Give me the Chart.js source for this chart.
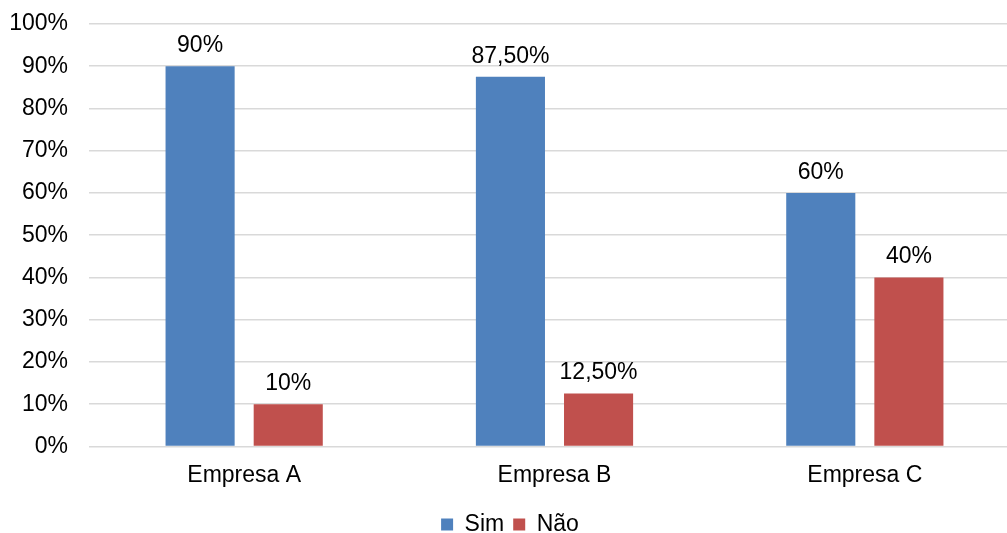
<!DOCTYPE html>
<html>
<head>
<meta charset="utf-8">
<script src="https://cdn.jsdelivr.net/npm/chart.js@4"></script>
<style>
  html, body { margin: 0; padding: 0; background: #fff; overflow: hidden; }
  #wrap { width: 1022px; height: 533px; position: relative; }
</style>
</head>
<body>
<div id="wrap"><canvas id="chart"></canvas></div>
<script>
// chart data
const categories = ["Empresa A", "Empresa B", "Empresa C"];
const simValues = [90, 87.5, 60];
const naoValues = [10, 12.5, 40];
const seriesNames = ["Sim", "Não"];
const yTicks = [0, 10, 20, 30, 40, 50, 60, 70, 80, 90, 100];

const FONT = "'Liberation Sans', Arial, sans-serif";

function pct(v) {
  // 90 -> "90%", 87.5 -> "87,50%"
  return Number.isInteger(v) ? v + "%" : v.toFixed(2).replace(".", ",") + "%";
}

// draws the value above each bar
const barLabels = {
  id: "barLabels",
  afterDatasetsDraw(chart) {
    const ctx = chart.ctx;
    ctx.save();
    ctx.font = "23px " + FONT;
    ctx.fillStyle = "#000";
    ctx.textAlign = "center";
    ctx.textBaseline = "bottom";
    chart.data.datasets.forEach((ds, i) => {
      chart.getDatasetMeta(i).data.forEach((bar, j) => {
        ctx.fillText(pct(ds.data[j]), bar.x, bar.y - 9);
      });
    });
    ctx.restore();
  }
};

new Chart(document.getElementById("chart"), {
  type: "bar",
  data: {
    labels: categories,
    datasets: [
      { label: seriesNames[0], data: simValues, backgroundColor: "#4F81BD" },
      { label: seriesNames[1], data: naoValues, backgroundColor: "#C0504D" }
    ]
  },
  options: {
    responsive: true,
    maintainAspectRatio: false,
    animation: false,
    categoryPercentage: 0.568,
    barPercentage: 0.784,
    layout: { padding: { left: 0, right: 2, top: 0, bottom: -13 } },
    plugins: {
      legend: {
        position: "bottom",
        labels: {
          boxWidth: 12,
          boxHeight: 12,
          padding: 9,
          color: "#000",
          font: { size: 23, family: FONT }
        }
      },
      tooltip: { enabled: false }
    },
    scales: {
      x: {
        grid: { display: false, drawTicks: false },
        border: { display: false },
        ticks: { color: "#000", padding: 15, font: { size: 23, family: FONT } }
      },
      y: {
        min: yTicks[0],
        max: yTicks[yTicks.length - 1],
        grid: { color: "#D9D9D9", lineWidth: 1.5, drawTicks: false },
        border: { display: false },
        afterBuildTicks(axis) { axis.ticks = yTicks.map(v => ({ value: v })); },
        afterFit(axis) {
          axis.width = 89;
          axis.paddingTop = 24;
        },
        ticks: {
          color: "#000",
          padding: 21,
          font: { size: 23, family: FONT },
          callback: v => v + "%"
        }
      }
    }
  },
  plugins: [barLabels]
});
</script>
</body>
</html>
